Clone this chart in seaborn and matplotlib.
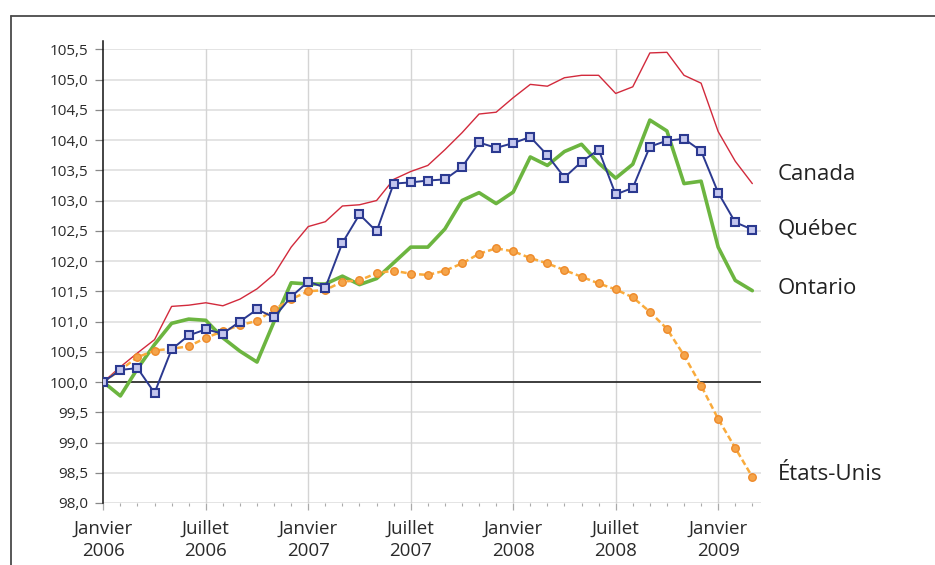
import numpy as np
import pandas as pd
import matplotlib
matplotlib.use("Agg")
import matplotlib.pyplot as plt
from matplotlib.lines import Line2D
from matplotlib.ticker import FixedLocator, MultipleLocator, FuncFormatter
import seaborn as sns

# ---- data (index, janvier 2006 = 100), monthly Jan 2006 - Mar 2009 ----
months = list(range(39))
canada = [100.0, 100.25, 100.48, 100.70, 101.25, 101.27, 101.31, 101.26, 101.37, 101.54,
          101.78, 102.23, 102.57, 102.65, 102.91, 102.93, 103.0, 103.35, 103.48, 103.58,
          103.84, 104.12, 104.43, 104.46, 104.70, 104.92, 104.89, 105.03, 105.07, 105.07,
          104.77, 104.88, 105.44, 105.45, 105.07, 104.94, 104.14, 103.65, 103.28]
quebec = [100.0, 100.20, 100.23, 99.82, 100.54, 100.77, 100.87, 100.80, 101.0, 101.2,
          101.07, 101.41, 101.66, 101.56, 102.30, 102.77, 102.49, 103.28, 103.30, 103.33,
          103.35, 103.55, 103.96, 103.87, 103.95, 104.05, 103.75, 103.38, 103.64, 103.84,
          103.10, 103.21, 103.89, 103.99, 104.02, 103.82, 103.13, 102.64, 102.52]
ontario = [100.0, 99.77, 100.22, 100.62, 100.97, 101.04, 101.02, 100.73, 100.51, 100.33,
           101.0, 101.64, 101.62, 101.62, 101.75, 101.61, 101.71, 101.97, 102.23, 102.23,
           102.53, 103.0, 103.13, 102.95, 103.14, 103.72, 103.58, 103.81, 103.93, 103.62,
           103.37, 103.6, 104.33, 104.15, 103.28, 103.32, 102.23, 101.68, 101.51]
etats_unis = [100.0, 100.2, 100.41, 100.52, 100.55, 100.59, 100.73, 100.84, 100.94, 101.01,
              101.2, 101.37, 101.50, 101.52, 101.66, 101.68, 101.80, 101.84, 101.79, 101.77,
              101.84, 101.96, 102.12, 102.21, 102.16, 102.05, 101.96, 101.85, 101.74, 101.63,
              101.53, 101.40, 101.16, 100.88, 100.44, 99.94, 99.39, 98.91, 98.43]
series_names = ["Canada", "Québec", "Ontario", "États-Unis"]
tick_months = [0, 6, 12, 18, 24, 30, 36]
tick_labels = ["Janvier\n2006", "Juillet\n2006", "Janvier\n2007", "Juillet\n2007",
               "Janvier\n2008", "Juillet\n2008", "Janvier\n2009"]
y_ticks = [98.0 + 0.5 * k for k in range(16)]

df = pd.DataFrame({"mois": months, "Canada": canada, "Québec": quebec,
                   "Ontario": ontario, "États-Unis": etats_unis})

sns.set_theme(style="white")
plt.rcParams["font.family"] = ["Open Sans", "DejaVu Sans"]

W, H = 935, 565
fig = plt.figure(figsize=(W / 100, H / 100), dpi=100)
top_px, bot_px = 49.3, 503.0
left_px, right_px = 103.3, 760.7
ax = fig.add_axes([left_px / W, 1 - bot_px / H, (right_px - left_px) / W, (bot_px - top_px) / H])

# grid
for y in y_ticks:
    ax.axhline(y, color="#dcdcdc", lw=1.1, zorder=0)
for m in tick_months[1:]:
    ax.axvline(m, color="#d4d4d4", lw=1.0, zorder=0)
ax.axhline(100.0, color="#111111", lw=1.1, zorder=1)

# series
sns.lineplot(data=df, x="mois", y="Canada", ax=ax, color="#d22a3c", lw=1.0, zorder=3)
sns.lineplot(data=df, x="mois", y="Ontario", ax=ax, color="#6cb540", lw=2.6, zorder=4)
sns.lineplot(data=df, x="mois", y="États-Unis", ax=ax, color="#f9ab3c", lw=1.8,
             dashes=False, linestyle=(0, (2.4, 1.3)), marker="o", markersize=5.4,
             markerfacecolor="#f5a44a", markeredgecolor="#ee8a2a", markeredgewidth=1.0, zorder=5)
sns.lineplot(data=df, x="mois", y="Québec", ax=ax, color="#2b3990", lw=1.4,
             marker="s", markersize=5.6, markerfacecolor="#c3c6ee",
             markeredgecolor="#2b3990", markeredgewidth=1.5, zorder=6)

ax.set_xlim(0, 38.49)
ax.set_ylim(98.0, 105.5)
ax.set_xlabel("")
ax.set_ylabel("")

ax.xaxis.set_major_locator(FixedLocator(tick_months))
ax.set_xticklabels(tick_labels, fontsize=13.5, color="#2a2a2a", linespacing=1.3)
ax.xaxis.set_minor_locator(MultipleLocator(1))
ax.yaxis.set_major_locator(FixedLocator(y_ticks))
ax.yaxis.set_major_formatter(FuncFormatter(lambda v, p: f"{v:.1f}".replace(".", ",")))
ax.tick_params(axis="y", labelsize=11, colors="#2a2a2a", length=5.8, width=0.9,
               direction="out", pad=5, left=True)
ax.tick_params(axis="y", color="#888888")
ax.tick_params(axis="x", which="major", length=5, width=0.9, color="#aaaaaa",
               direction="out", pad=7, bottom=True)
ax.tick_params(axis="x", which="minor", length=2.5, width=0.8, color="#aaaaaa",
               direction="out", bottom=True)

for s in ["top", "right", "bottom"]:
    ax.spines[s].set_visible(False)
ax.spines["left"].set_color("#111111")
ax.spines["left"].set_linewidth(1.1)
ax.spines["left"].set_bounds(98.0, 105.63)

# series labels at right
label_pos = [("Canada", 175), ("Québec", 229), ("Ontario", 289), ("États-Unis", 474)]
for name, ypx in label_pos:
    fig.text(778 / W, 1 - ypx / H, name, fontsize=16, color="#222222", va="center", ha="left")

# outer frame
fx = 11 / W
fy = 1 - 16 / H
fig.add_artist(Line2D([fx, fx], [0, fy], transform=fig.transFigure, color="#4a4a4a", lw=1.3))
fig.add_artist(Line2D([fx, 1], [fy, fy], transform=fig.transFigure, color="#4a4a4a", lw=1.3))

fig.savefig("out.png", dpi=100)
